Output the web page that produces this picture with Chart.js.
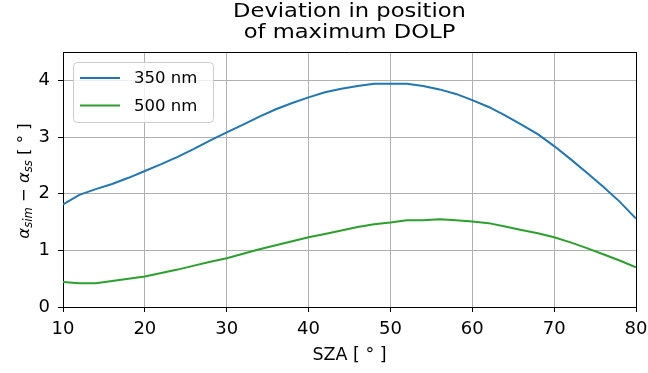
<!DOCTYPE html>
<html>
<head>
<meta charset="utf-8">
<script src="https://cdn.jsdelivr.net/npm/chart.js@4.4.1/dist/chart.umd.min.js"></script>
<style>
html,body{margin:0;padding:0;background:#fff;}
#c{display:block;}
</style>
</head>
<body>
<canvas id="c" width="648" height="373"></canvas>
<script>
// ---- data ----
const sza = [10,12,14,16,18,20,22,24,26,28,30,32,34,36,38,40,42,44,46,48,50,52,54,56,58,60,62,64,66,68,70,72,74,76,78,80];
const dev350 = [1.81,1.98,2.08,2.17,2.28,2.40,2.52,2.65,2.79,2.94,3.08,3.22,3.36,3.49,3.60,3.70,3.79,3.85,3.90,3.94,3.94,3.94,3.90,3.84,3.76,3.65,3.53,3.38,3.22,3.05,2.84,2.61,2.37,2.12,1.86,1.56];
const dev500 = [0.44,0.42,0.42,0.46,0.50,0.54,0.60,0.66,0.73,0.80,0.86,0.94,1.02,1.09,1.16,1.23,1.29,1.35,1.41,1.46,1.49,1.53,1.53,1.55,1.53,1.51,1.48,1.42,1.36,1.30,1.23,1.14,1.04,0.93,0.82,0.70];
const seriesLabels = ['350 nm', '500 nm'];
const seriesColors = ['#1f77b4', '#2ca02c'];
const xTicks = [10,20,30,40,50,60,70,80];
const yTicks = [0,1,2,3,4];
const titleLines = ['Deviation in position', 'of maximum DOLP'];
const xLabel = 'SZA [ ° ]';
const yLabelParts = [
  {t:'α', style:'italic', sub:false},
  {t:'sim', style:'italic', sub:true},
  {t:' − ', style:'normal', sub:false},
  {t:'α', style:'italic', sub:false},
  {t:'ss', style:'italic', sub:true},
  {t:' [ ° ]', style:'normal', sub:false}
];

const FONT = "'DejaVu Sans', sans-serif";
const TICK_SIZE = 18;
const XLABEL_SIZE = 17.5;
const YLABEL_SIZE = 16.5;
const TITLE_SIZE = 19.5;
const TITLE_HSCALE = 1.16;
const LEGEND_SIZE = 16.5;

const decorations = {
  id: 'decorations',
  afterDraw(chart) {
    const ctx = chart.ctx;
    const a = chart.chartArea;
    ctx.save();
    // top and right spines
    ctx.strokeStyle = '#000';
    ctx.lineWidth = 1;
    ctx.beginPath();
    ctx.moveTo(a.left, Math.round(a.top) + 0.5);
    ctx.lineTo(a.right + 0.5, Math.round(a.top) + 0.5);
    ctx.moveTo(Math.round(a.right) + 0.5, a.top);
    ctx.lineTo(Math.round(a.right) + 0.5, a.bottom);
    ctx.stroke();

    // title
    ctx.fillStyle = '#000';
    ctx.textAlign = 'center';
    ctx.textBaseline = 'alphabetic';
    ctx.font = TITLE_SIZE + 'px ' + FONT;
    const cx = (a.left + a.right) / 2;
    ctx.save();
    ctx.translate(cx, 0);
    ctx.scale(TITLE_HSCALE, 1);
    ctx.fillText(titleLines[0], 0, 16.7);
    ctx.fillText(titleLines[1], 0, 37.7);
    ctx.restore();

    // y label with subscripts
    ctx.save();
    ctx.translate(22.5, 181);
    ctx.rotate(-Math.PI / 2);
    ctx.textAlign = 'left';
    ctx.textBaseline = 'alphabetic';
    let total = 0;
    const widths = yLabelParts.map(p => {
      ctx.font = p.style + ' ' + (p.sub ? YLABEL_SIZE * 0.7 : YLABEL_SIZE) + 'px ' + FONT;
      const w = ctx.measureText(p.t).width;
      total += w;
      return w;
    });
    let x = -total / 2;
    yLabelParts.forEach((p, i) => {
      ctx.font = p.style + ' ' + (p.sub ? YLABEL_SIZE * 0.7 : YLABEL_SIZE) + 'px ' + FONT;
      ctx.fillText(p.t, x, 6 + (p.sub ? 3.5 : 0));
      x += widths[i];
    });
    ctx.restore();

    // legend
    const lx = 73.5, ly = 62.5, lw = 140, lh = 60, r = 4;
    ctx.beginPath();
    ctx.moveTo(lx + r, ly);
    ctx.lineTo(lx + lw - r, ly);
    ctx.quadraticCurveTo(lx + lw, ly, lx + lw, ly + r);
    ctx.lineTo(lx + lw, ly + lh - r);
    ctx.quadraticCurveTo(lx + lw, ly + lh, lx + lw - r, ly + lh);
    ctx.lineTo(lx + r, ly + lh);
    ctx.quadraticCurveTo(lx, ly + lh, lx, ly + lh - r);
    ctx.lineTo(lx, ly + r);
    ctx.quadraticCurveTo(lx, ly, lx + r, ly);
    ctx.closePath();
    ctx.fillStyle = 'rgba(255,255,255,0.8)';
    ctx.fill();
    ctx.strokeStyle = '#cccccc';
    ctx.lineWidth = 1;
    ctx.stroke();
    ctx.font = LEGEND_SIZE + 'px ' + FONT;
    ctx.textAlign = 'left';
    ctx.textBaseline = 'middle';
    chart.data.datasets.forEach((ds, i) => {
      const yy = 78 + i * 27.5;
      ctx.strokeStyle = ds.borderColor;
      ctx.lineWidth = 2;
      ctx.beginPath();
      ctx.moveTo(80, yy);
      ctx.lineTo(120, yy);
      ctx.stroke();
      ctx.fillStyle = '#000';
      ctx.fillText(ds.label, 134, yy + 1);
    });
    ctx.restore();
  }
};

new Chart(document.getElementById('c'), {
  type: 'line',
  data: {
    datasets: [
      { label: seriesLabels[0], data: sza.map((v, i) => ({x: v, y: dev350[i]})), borderColor: seriesColors[0], backgroundColor: seriesColors[0], borderWidth: 2, pointRadius: 0, tension: 0, fill: false },
      { label: seriesLabels[1], data: sza.map((v, i) => ({x: v, y: dev500[i]})), borderColor: seriesColors[1], backgroundColor: seriesColors[1], borderWidth: 2, pointRadius: 0, tension: 0, fill: false }
    ]
  },
  options: {
    responsive: false,
    devicePixelRatio: 1,
    animation: false,
    layout: { padding: { top: 52, right: 12, left: 0, bottom: 0 } },
    plugins: { legend: { display: false }, tooltip: { enabled: false }, title: { display: false } },
    scales: {
      x: {
        type: 'linear', min: 10, max: 80,
        afterBuildTicks: s => { s.ticks = xTicks.map(v => ({value: v})); },
        afterFit: s => { s.height = 66; s.paddingLeft = 0; s.paddingRight = 0; },
        ticks: { font: { family: FONT, size: TICK_SIZE }, color: '#000', padding: 7, maxRotation: 0 },
        grid: { color: '#b0b0b0', lineWidth: 1, tickLength: 5, tickColor: '#000', tickWidth: 1 },
        border: { color: '#000', width: 1 },
        title: { display: true, text: xLabel, font: { family: FONT, size: XLABEL_SIZE }, color: '#000', padding: { top: 0, bottom: 7 } }
      },
      y: {
        min: 0, max: 4.5,
        afterBuildTicks: s => { s.ticks = yTicks.map(v => ({value: v})); },
        afterFit: s => { s.width = 63; s.paddingTop = 0; s.paddingBottom = 0; },
        ticks: { font: { family: FONT, size: TICK_SIZE }, color: '#000', padding: 8 },
        grid: { color: '#b0b0b0', lineWidth: 1, tickLength: 5, tickColor: '#000', tickWidth: 1 },
        border: { color: '#000', width: 1 }
      }
    }
  },
  plugins: [decorations]
});
</script>
</body>
</html>
